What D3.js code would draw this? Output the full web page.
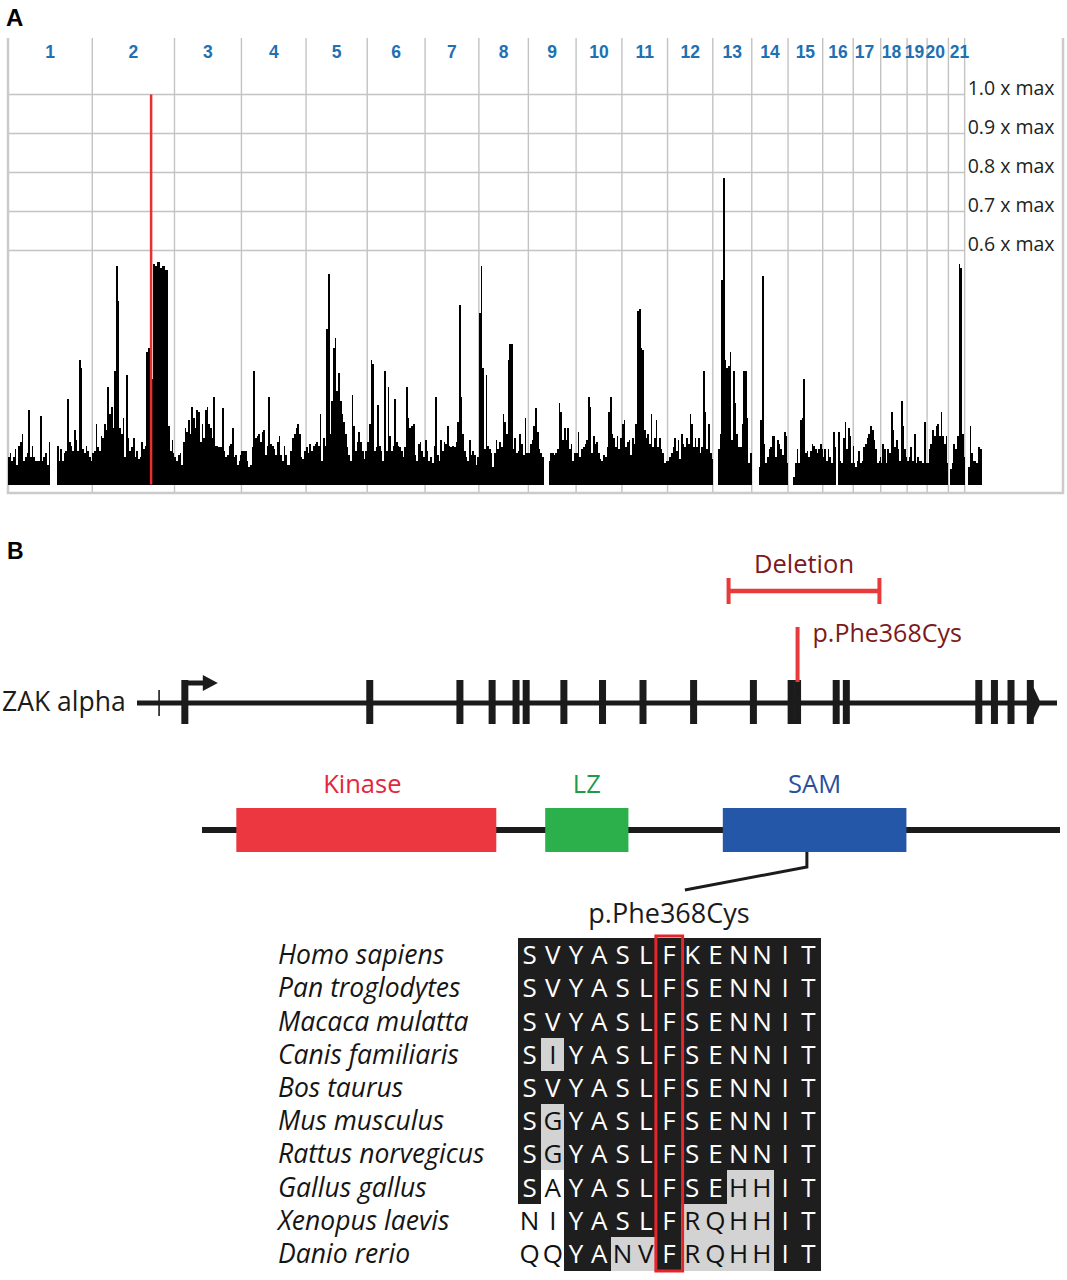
<!DOCTYPE html>
<html>
<head>
<meta charset="utf-8">
<title>ZAK mapping</title>
<script src="https://cdn.jsdelivr.net/npm/d3@7"></script>
<style>
  body { margin: 0; background: #ffffff; }
  #chart svg { display: block; }
</style>
</head>
<body>
<div id="chart"></div>
<script>
// ---------- panel A: genome-wide scan ----------
const chromNames = ["1","2","3","4","5","6","7","8","9","10","11","12","13","14","15","16","17","18","19","20","21","22"];
// chromosome lengths in Mb
const chromLengths = [249.25, 243.2, 198.0, 191.15, 180.9, 171.1, 159.1, 146.4, 141.2, 135.5, 135.0, 133.85,
                      115.2, 107.35, 102.5, 90.35, 81.2, 78.1, 59.1, 63.0, 48.1, 51.3];
const binSize = 5; // Mb per bin
// score per 5 Mb bin, in percent of the genome-wide max (null = no markers)
const chr1 = [7,8,6,7,9,5,10,11,13,6,7,8,19,7,10,7,6,6,6,17.5,6,7,8,5,11,null,null,null,null,
              10,6,9,6,8,8.5,22,11,10,8.5,14,11.5,8.5,32,30,9,8,10,8.5,7,6];
const chr2 = [8,8.5,15.5,9.5,8.5,12.5,12,15.5,14,25,18,20,14.5,29,56,47,14.5,13,17,7,
              28,12,8.5,9.5,12,7,8.5,6.5,7,11,9,10,34,35,29,27,56.5,56,57,57,55.5,56,56,55,55,15,8.5,11.5,8];
const chr3 = [7,6,7.5,8,5,11,14.5,13.5,16.5,13,20,17,14.5,19,18.5,11,15.5,12,19,20,
              15.5,14.5,12,22.5,10,10,9.5,9.5,19.5,8.5,7,7.5,10,10.5,14.5,7,7.5,5,6,7.5];
const chr4 = [8.5,8.5,8.5,6,4.5,5,9.5,29,12,12.5,13,11,13.5,14,7.5,10,22.5,10.5,10,9,
              7.5,11,12.5,7.5,6,10,7.5,5,5,8.5,12,13,14.5,15.5,13,7,6.5,8.5,7];
const chr5 = [9.5,8,10.5,8.5,10,10.5,11,10,18,6,12,10,40,54,13,21.5,35,37.5,24,28.5,
              21.5,18,16,13,9.5,7.5,6,23,15,8.5,11,13.5,11,8.5,6.5,8.5,7];
const chr6 = [11,15.5,32,31,8.5,9.5,20.5,10,8.5,6,29,8.5,25,12.5,8.5,10,22,11,10,9.5,
              8.5,7,9.5,25,17,14.5,15,15.5,7.5,6,10.5,11,8.5,7,5];
const chr7 = [11.5,8.5,6,7,5.5,10,22.5,7.5,6,11.5,8.5,11,10.5,15,10,9.5,10,9.5,11,16,
              46,22.5,13,8.5,7,6,11.5,7.5,8.5,7.5,5,7];
const chr8 = [44,56,30,9,28,10,9,8,4.5,8,11.5,9,11,9.5,18,16,13,32,36,36,
              9,12,8,8.5,13,10.5,7.5,17,8,8];
const chr9 = [8,10.5,11.5,15,19.5,13.5,9,8,7,null,null,null,6,8,8,7.5,8,9,21,18.5,
              11.5,14.5,11.5,14.5,9,10.5,6,8,7];
const chr10 = [8,13.5,7,9,9.5,10.5,11.5,22.5,20,8,12.5,10.5,11,8,6.5,6,7.5,7,9.5,18.5,
               22.5,13,12,9.5,12.5,9,12,10];
const chr11 = [15.5,16.5,9.5,11,11.5,7.5,12,10.5,15.5,44.5,45,35,34.5,14,12,13,10.5,18,9.5,12,
               16.5,9.5,12,9,8,5.5,6];
const chr12 = [6,7,8,9.5,12,8.5,11.5,6.5,13,10.5,9.5,12,10.5,18,15.5,9.5,12,9.5,12,8,
               9.5,29,18.5,9,15.5,8,6.5];
const chr13 = [null,null,null,9,13,52.5,78.5,32,30,30.5,34,11.5,29,21,13,9.5,9.5,15.5,29,29,17,5.5,8,6];
const chr14 = [null,null,null,null,4.5,16.5,53.5,10.5,5.5,7,9,9.5,12.5,12.5,7,11.5,10.5,9,7.5,13.5,12.5,5.5];
const chr15 = [null,null,null,2,5.5,9,5.5,16.5,17,27,8,8.5,7,8.5,10.5,10,9,8,9,10.5,9];
const chr16 = [7,9,6,9,7,5.5,13.5,9.5,null,13.5,6,5.5,12,16,9,14.5,12.5,5.5,10];
const chr17 = [5.5,4.5,6,8.5,5.5,6,9.5,10.5,12,13,15,14,11.5,9,5.5,6,7];
const chr18 = [5.5,10.5,9,5.5,9,8,18.5,14,9.5,11.5,9,6,21.5,15,9,7];
const chr19 = [6,7,9.5,6,13,5.5,7,6,6,5.5,16,5.5];
const chr20 = [5.5,9,10.5,14,12.5,15,15.5,12.5,18.5,12.5,10.5,12.5,5.5];
const chr21 = [null,4,5.5,10.5,9,12.5,56.5,55.5,13,7];
const chr22 = [null,null,4.5,15,8,6,6,5.5,9.5,9,5.5];
const chromValues = [chr1,chr2,chr3,chr4,chr5,chr6,chr7,chr8,chr9,chr10,chr11,chr12,
                     chr13,chr14,chr15,chr16,chr17,chr18,chr19,chr20,chr21,chr22];
const labelledChroms = 21;          // last chromosome has no label / grid line
const gridLevels = [60, 70, 80, 90, 100];
const gridLabels = ["0.6 x max", "0.7 x max", "0.8 x max", "0.9 x max", "1.0 x max"];
const zakChrom = 2, zakMb = 174;

// ---------- panel B: gene, protein, alignment ----------
const geneTick = 2.4;
const tssPos = 5.2;
const exonPos = [25.3, 35.1, 38.6, 41.2, 42.3, 46.4, 50.6, 55.0, 60.5, 67.0, 71.1, 71.8, 76.0, 77.1, 91.5, 93.2, 95.0];
const lastExonPos = 97.1;
const deletionSpan = [64.3, 80.7];
const variantPos = 71.8;
const variantLabel = "p.Phe368Cys";

const domainNames = ["Kinase", "LZ", "SAM"];
const domainStart = [4.0, 40.0, 60.7];
const domainEnd = [34.3, 49.7, 82.1];
const domainFill = ["#ec3740", "#2bb04b", "#2457a8"];
const domainText = ["#e3263d", "#1f9a47", "#2a4f9e"];
const variantProteinPos = 70.5;

const species = ["Homo sapiens", "Pan troglodytes", "Macaca mulatta", "Canis familiaris", "Bos taurus",
                 "Mus musculus", "Rattus norvegicus", "Gallus gallus", "Xenopus laevis", "Danio rerio"];
const sequences = ["SVYASLFKENNIT", "SVYASLFSENNIT", "SVYASLFSENNIT", "SIYASLFSENNIT", "SVYASLFSENNIT",
                   "SGYASLFSENNIT", "SGYASLFSENNIT", "SAYASLFSEHHIT", "NIYASLFRQHHIT", "QQYANVFRQHHIT"];
// b = black (identical), g = grey (similar), w = white
const shading = ["bbbbbbbbbbbbb", "bbbbbbbbbbbbb", "bbbbbbbbbbbbb", "bgbbbbbbbbbbb", "bbbbbbbbbbbbb",
                 "bgbbbbbbbbbbb", "bgbbbbbbbbbbb", "bwbbbbbbbggbb", "wwbbbbbggggbb", "wwbbggbggggbb"];
const variantColumn = 6;

// ---------- drawing ----------
const width = 1067, height = 1280;
const svg = d3.select("#chart").append("svg")
  .attr("width", width)
  .attr("height", height)
  .attr("viewBox", `0 0 ${width} ${height}`);

const sansBold = "'Liberation Sans', Arial, sans-serif";
const sans = "'Open Sans', 'Noto Sans', sans-serif";
const gridColor = "#c3c3c3";

// panel letters
svg.append("text").attr("x", 6).attr("y", 26)
  .attr("font-family", sansBold).attr("font-weight", "bold").attr("font-size", 24).text("A");
svg.append("text").attr("x", 7).attr("y", 559)
  .attr("font-family", sansBold).attr("font-weight", "bold").attr("font-size", 23).text("B");

// ----- panel A -----
const plotTop = 38, plotBottom = 493, plotLeft = 8, plotRight = 1063;
const chromStart = d3.cumsum([0].concat(chromLengths));
const totalMb = chromStart[chromStart.length - 1];

const x = d3.scaleLinear().domain([0, totalMb]).range([8, 982]);
const y = d3.scaleLinear().domain([0, 100]).range([484.5, 94.5]);

const panelA = svg.append("g");
const gridRight = x(chromStart[labelledChroms]);

// horizontal reference lines
panelA.selectAll("line.hgrid").data(gridLevels).enter().append("line")
  .attr("class", "hgrid")
  .attr("x1", plotLeft).attr("x2", gridRight)
  .attr("y1", d => y(d)).attr("y2", d => y(d))
  .attr("stroke", gridColor).attr("stroke-width", 1.4);

// chromosome boundaries
panelA.selectAll("line.vgrid").data(d3.range(1, labelledChroms + 1)).enter().append("line")
  .attr("class", "vgrid")
  .attr("x1", i => x(chromStart[i])).attr("x2", i => x(chromStart[i]))
  .attr("y1", plotTop).attr("y2", plotBottom)
  .attr("stroke", gridColor).attr("stroke-width", 1.4);

// frame (no top edge)
panelA.append("path")
  .attr("d", `M${plotLeft},${plotTop}V${plotBottom}H${plotRight}V${plotTop}`)
  .attr("fill", "none").attr("stroke", "#cbcbcb").attr("stroke-width", 2.5);

// chromosome labels (the crowded small ones are nudged a little, as in the source figure)
panelA.selectAll("text.chrom").data(d3.range(labelledChroms)).enter().append("text")
  .attr("class", "chrom")
  .attr("x", i => x((chromStart[i] + chromStart[i + 1]) / 2) + (i === 20 ? 3 : (i >= 16 ? -2.5 : 0)))
  .attr("y", 57.5)
  .attr("text-anchor", "middle")
  .attr("font-family", sansBold).attr("font-weight", "bold").attr("font-size", 17.5)
  .attr("fill", "#2070b2")
  .text(i => chromNames[i]);

// level labels
panelA.selectAll("text.level").data(gridLevels).enter().append("text")
  .attr("class", "level")
  .attr("x", gridRight + 3)
  .attr("y", d => y(d) + 0.5)
  .attr("font-family", sans).attr("font-size", 19.5).attr("fill", "#231f20")
  .text((d, i) => gridLabels[i]);

// bars
const bins = [];
chromValues.forEach((vals, c) => {
  vals.forEach((v, i) => {
    if (v === null) return;
    const a = chromStart[c] + i * binSize;
    const b = chromStart[c] + Math.min((i + 1) * binSize, chromLengths[c]);
    bins.push({ a, b, v });
  });
});
panelA.append("g").attr("shape-rendering", "crispEdges")
  .selectAll("rect").data(bins).enter().append("rect")
  .attr("x", d => x(d.a))
  .attr("width", d => Math.max(0.8, x(d.b) - x(d.a)))
  .attr("y", d => y(d.v))
  .attr("height", d => y(0) - y(d.v))
  .attr("fill", "#000");

// ZAK locus
const zakX = x(chromStart[zakChrom - 1] + zakMb);
panelA.append("line")
  .attr("x1", zakX).attr("x2", zakX)
  .attr("y1", y(100)).attr("y2", y(0))
  .attr("stroke", "#e8302c").attr("stroke-width", 2.5);

// ----- panel B: gene model -----
const gx = d3.scaleLinear().domain([0, 100]).range([137, 1057]);
const geneY = 703, exonTop = 680, exonBottom = 724;
const ink = "#1b1b1b";
const red = "#e8393b";
const maroon = "#7b1a1c";
const panelB = svg.append("g");

panelB.append("text").attr("x", 2).attr("y", 711)
  .attr("font-family", sans).attr("font-size", 26.5).attr("fill", ink).text("ZAK alpha");

panelB.append("line").attr("x1", gx(0)).attr("x2", gx(100))
  .attr("y1", geneY).attr("y2", geneY).attr("stroke", ink).attr("stroke-width", 5);

panelB.append("line").attr("x1", gx(geneTick)).attr("x2", gx(geneTick))
  .attr("y1", 690).attr("y2", 716).attr("stroke", ink).attr("stroke-width", 1.6);

panelB.selectAll("rect.exon").data([tssPos].concat(exonPos)).enter().append("rect")
  .attr("class", "exon")
  .attr("x", d => gx(d) - 3.5).attr("width", 7)
  .attr("y", exonTop).attr("height", exonBottom - exonTop)
  .attr("fill", ink);

// transcription start arrow
const tx = gx(tssPos);
panelB.append("line").attr("x1", tx - 1).attr("x2", tx + 20)
  .attr("y1", exonTop + 3).attr("y2", exonTop + 3).attr("stroke", ink).attr("stroke-width", 5);
panelB.append("path")
  .attr("d", `M${tx + 18},${exonTop - 5}L${tx + 33},${exonTop + 3}L${tx + 18},${exonTop + 11}Z`)
  .attr("fill", ink);

// last exon with 3' end arrow
const lx = gx(lastExonPos) - 3.5;
panelB.append("path")
  .attr("d", `M${lx},${exonTop}H${lx + 7}V${geneY - 15}L${lx + 14},${geneY}L${lx + 7},${geneY + 15}V${exonBottom}H${lx}Z`)
  .attr("fill", ink);

// deletion bracket
const dY = 591;
panelB.append("line").attr("x1", gx(deletionSpan[0])).attr("x2", gx(deletionSpan[1]))
  .attr("y1", dY).attr("y2", dY).attr("stroke", red).attr("stroke-width", 4.5);
panelB.selectAll("line.cap").data(deletionSpan).enter().append("line")
  .attr("class", "cap")
  .attr("x1", d => gx(d)).attr("x2", d => gx(d))
  .attr("y1", dY - 13).attr("y2", dY + 13)
  .attr("stroke", red).attr("stroke-width", 4);
panelB.append("text")
  .attr("x", gx((deletionSpan[0] + deletionSpan[1]) / 2)).attr("y", 573)
  .attr("text-anchor", "middle")
  .attr("font-family", sans).attr("font-size", 25.5).attr("fill", maroon).text("Deletion");

// missense variant
panelB.append("line").attr("x1", gx(variantPos)).attr("x2", gx(variantPos))
  .attr("y1", 627).attr("y2", exonTop + 2).attr("stroke", red).attr("stroke-width", 4);
panelB.append("text")
  .attr("x", gx(variantPos) + 15).attr("y", 642)
  .attr("font-family", sans).attr("font-size", 25).attr("fill", maroon).text(variantLabel);

// ----- panel B: protein -----
const px = d3.scaleLinear().domain([0, 100]).range([202, 1060]);
const protY = 830, domTop = 808, domBottom = 852;

panelB.append("line").attr("x1", px(0)).attr("x2", px(100))
  .attr("y1", protY).attr("y2", protY).attr("stroke", ink).attr("stroke-width", 6);

panelB.selectAll("rect.domain").data(domainNames).enter().append("rect")
  .attr("class", "domain")
  .attr("x", (d, i) => px(domainStart[i]))
  .attr("width", (d, i) => px(domainEnd[i]) - px(domainStart[i]))
  .attr("y", domTop).attr("height", domBottom - domTop)
  .attr("fill", (d, i) => domainFill[i]);

panelB.selectAll("text.domain").data(domainNames).enter().append("text")
  .attr("class", "domain")
  .attr("x", (d, i) => px((domainStart[i] + domainEnd[i]) / 2) - (i === 0 ? 4 : 0))
  .attr("y", 793)
  .attr("text-anchor", "middle")
  .attr("font-family", sans).attr("font-size", 25.5)
  .attr("fill", (d, i) => domainText[i])
  .text(d => d);

const vx = px(variantProteinPos);
panelB.append("path")
  .attr("d", `M${vx},${domBottom}V${domBottom + 15}L${vx - 122},${domBottom + 38}`)
  .attr("fill", "none").attr("stroke", ink).attr("stroke-width", 3);

panelB.append("text").attr("x", 669).attr("y", 923)
  .attr("text-anchor", "middle")
  .attr("font-family", sans).attr("font-size", 27).attr("fill", ink).text(variantLabel);

// ----- panel B: alignment -----
const col = d3.scaleBand().domain(d3.range(sequences[0].length)).range([518, 820]);
const row = d3.scaleBand().domain(d3.range(species.length)).range([938, 1270]);
const cellFill = { b: "#1e1e1e", g: "#d3d3d3", w: "#ffffff" };

panelB.selectAll("text.species").data(species).enter().append("text")
  .attr("class", "species")
  .attr("x", 278)
  .attr("y", (d, i) => row(i) + row.bandwidth() / 2 + 9.5)
  .attr("font-family", sans).attr("font-style", "italic").attr("font-size", 26.5)
  .attr("fill", "#151515")
  .text(d => d);

const cells = [];
sequences.forEach((s, r) => {
  s.split("").forEach((aa, c) => cells.push({ r, c, aa, shade: shading[r][c] }));
});

const alignG = panelB.append("g");
alignG.selectAll("rect").data(cells).enter().append("rect")
  .attr("x", d => col(d.c)).attr("width", col.bandwidth() + 0.5)
  .attr("y", d => row(d.r)).attr("height", row.bandwidth() + 0.5)
  .attr("fill", d => cellFill[d.shade])
  .attr("shape-rendering", "crispEdges");

alignG.selectAll("text").data(cells).enter().append("text")
  .attr("x", d => col(d.c) + col.bandwidth() / 2)
  .attr("y", d => row(d.r) + row.bandwidth() / 2 + 9.5)
  .attr("text-anchor", "middle")
  .attr("font-family", sans).attr("font-size", 26)
  .attr("fill", d => d.shade === "b" ? "#ffffff" : "#111111")
  .text(d => d.aa);

alignG.append("rect")
  .attr("x", col(variantColumn) - 1.5)
  .attr("width", col.bandwidth() + 3.5)
  .attr("y", row(0) - 2)
  .attr("height", row.range()[1] - row.range()[0] + 3)
  .attr("fill", "none").attr("stroke", "#e4262b").attr("stroke-width", 3);
</script>
</body>
</html>
